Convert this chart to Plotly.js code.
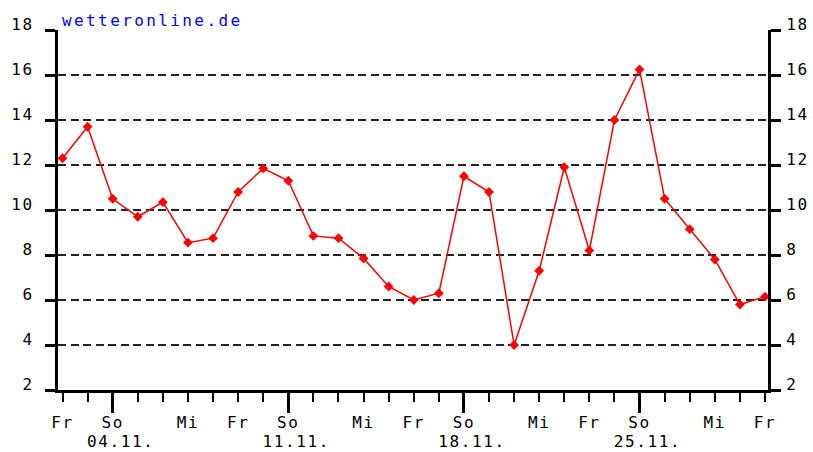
<!DOCTYPE html>
<html><head><meta charset="utf-8">
<script src="https://cdn.plot.ly/plotly-3.0.1.min.js"></script>
<style>
body{margin:0;background:#fff}
#chart{width:813px;height:452px}
#chart text {letter-spacing:1.6px !important}
#chart .annotation-text {letter-spacing:2.4px !important}
</style></head><body><div id="chart"></div>
<script>
const temps = [12.3, 13.7, 10.5, 9.7, 10.35, 8.55, 8.75, 10.8, 11.85, 11.3, 8.85, 8.75, 7.85, 6.6, 6.0, 6.3, 11.5, 10.8, 4.0, 7.3, 11.9, 8.2, 14.0, 16.25, 10.5, 9.15, 7.8, 5.8, 6.15];
const dayLabelPos = [0, 2, 5, 7, 9, 12, 14, 16, 19, 21, 23, 26, 28];
const dayLabelText = ['Fr', 'So', 'Mi', 'Fr', 'So', 'Mi', 'Fr', 'So', 'Mi', 'Fr', 'So', 'Mi', 'Fr'];
const datePos = [2, 9, 16, 23];
const dateText = ['04.11.', '11.11.', '18.11.', '25.11.'];
const yTicks = [2, 4, 6, 8, 10, 12, 14, 16, 18];
const days = temps.map((_, i) => i);

const FONT = {family: 'DejaVu Sans Mono', size: 16, color: '#000'};
const xr = [-0.18, 28.12];
const yr = [2, 18];

const trace = {
  x: days, y: temps, type: 'scatter', mode: 'lines+markers',
  line: {color: '#ff0000', width: 1.5},
  marker: {symbol: 'diamond', size: 7.5, color: '#ff0000'},
  hoverinfo: 'skip', xaxis: 'x', yaxis: 'y'
};
const dummy2 = {x: [], y: [], xaxis: 'x2', yaxis: 'y2', type: 'scatter', showlegend: false};
const dummy3 = {x: [], y: [], xaxis: 'x3', yaxis: 'y', type: 'scatter', showlegend: false};

const layout = {
  width: 813, height: 452,
  margin: {l: 58, r: 45, t: 30, b: 62},
  paper_bgcolor: '#fff', plot_bgcolor: '#fff',
  showlegend: false,
  font: FONT,
  xaxis: {
    range: xr, showgrid: false, zeroline: false,
    showline: true, linecolor: '#000', linewidth: 3,
    ticks: 'outside', tickmode: 'array', tickvals: datePos, ticklen: 20, tickwidth: 3, tickcolor: '#000',
    showticklabels: false,
    minor: {ticks: 'outside', dtick: 1, tick0: 0, ticklen: 9, tickwidth: 2, tickcolor: '#000', showgrid: false}
  },
  xaxis2: {
    range: xr, overlaying: 'x', anchor: 'y', side: 'bottom',
    showgrid: false, zeroline: false, showline: false,
    tickmode: 'array', tickvals: dayLabelPos, ticktext: dayLabelText,
    ticks: 'outside', ticklen: 18, tickcolor: 'rgba(0,0,0,0)', tickfont: FONT
  },
  xaxis3: {
    range: xr, overlaying: 'x', anchor: 'y', side: 'bottom',
    showgrid: false, zeroline: false, showline: false,
    tickmode: 'array', tickvals: datePos, ticktext: dateText,
    ticks: 'outside', ticklen: 37, tickcolor: 'rgba(0,0,0,0)', tickfont: FONT,
    ticklabelshift: 8
  },
  yaxis: {
    range: yr, zeroline: false,
    showline: true, linecolor: '#000', linewidth: 3,
    ticks: 'outside', tickmode: 'array', tickvals: yTicks, ticklen: 10, tickwidth: 3, tickcolor: '#000',
    showgrid: true, gridcolor: '#222', gridwidth: 2, griddash: '8px,4.5px',
    tickfont: FONT, ticklabelstandoff: 8, ticklabelshift: -6
  },
  yaxis2: {
    range: yr, overlaying: 'y', side: 'right', anchor: 'x', zeroline: false,
    showline: true, linecolor: '#000', linewidth: 3, showgrid: false,
    ticks: 'outside', tickmode: 'array', tickvals: yTicks, ticklen: 10, tickwidth: 3, tickcolor: '#000',
    tickfont: FONT, ticklabelstandoff: 2, ticklabelshift: -6
  },
  annotations: [{
    text: 'wetteronline.de', xref: 'paper', yref: 'paper', x: 0, y: 1,
    xanchor: 'left', yanchor: 'bottom', xshift: 20, yshift: -2, showarrow: false,
    font: {family: 'DejaVu Sans Mono', size: 16, color: '#0000ff'}
  }]
};

Plotly.newPlot('chart', [trace, dummy2, dummy3], layout, {staticPlot: true, displayModeBar: false});
</script></body></html>
